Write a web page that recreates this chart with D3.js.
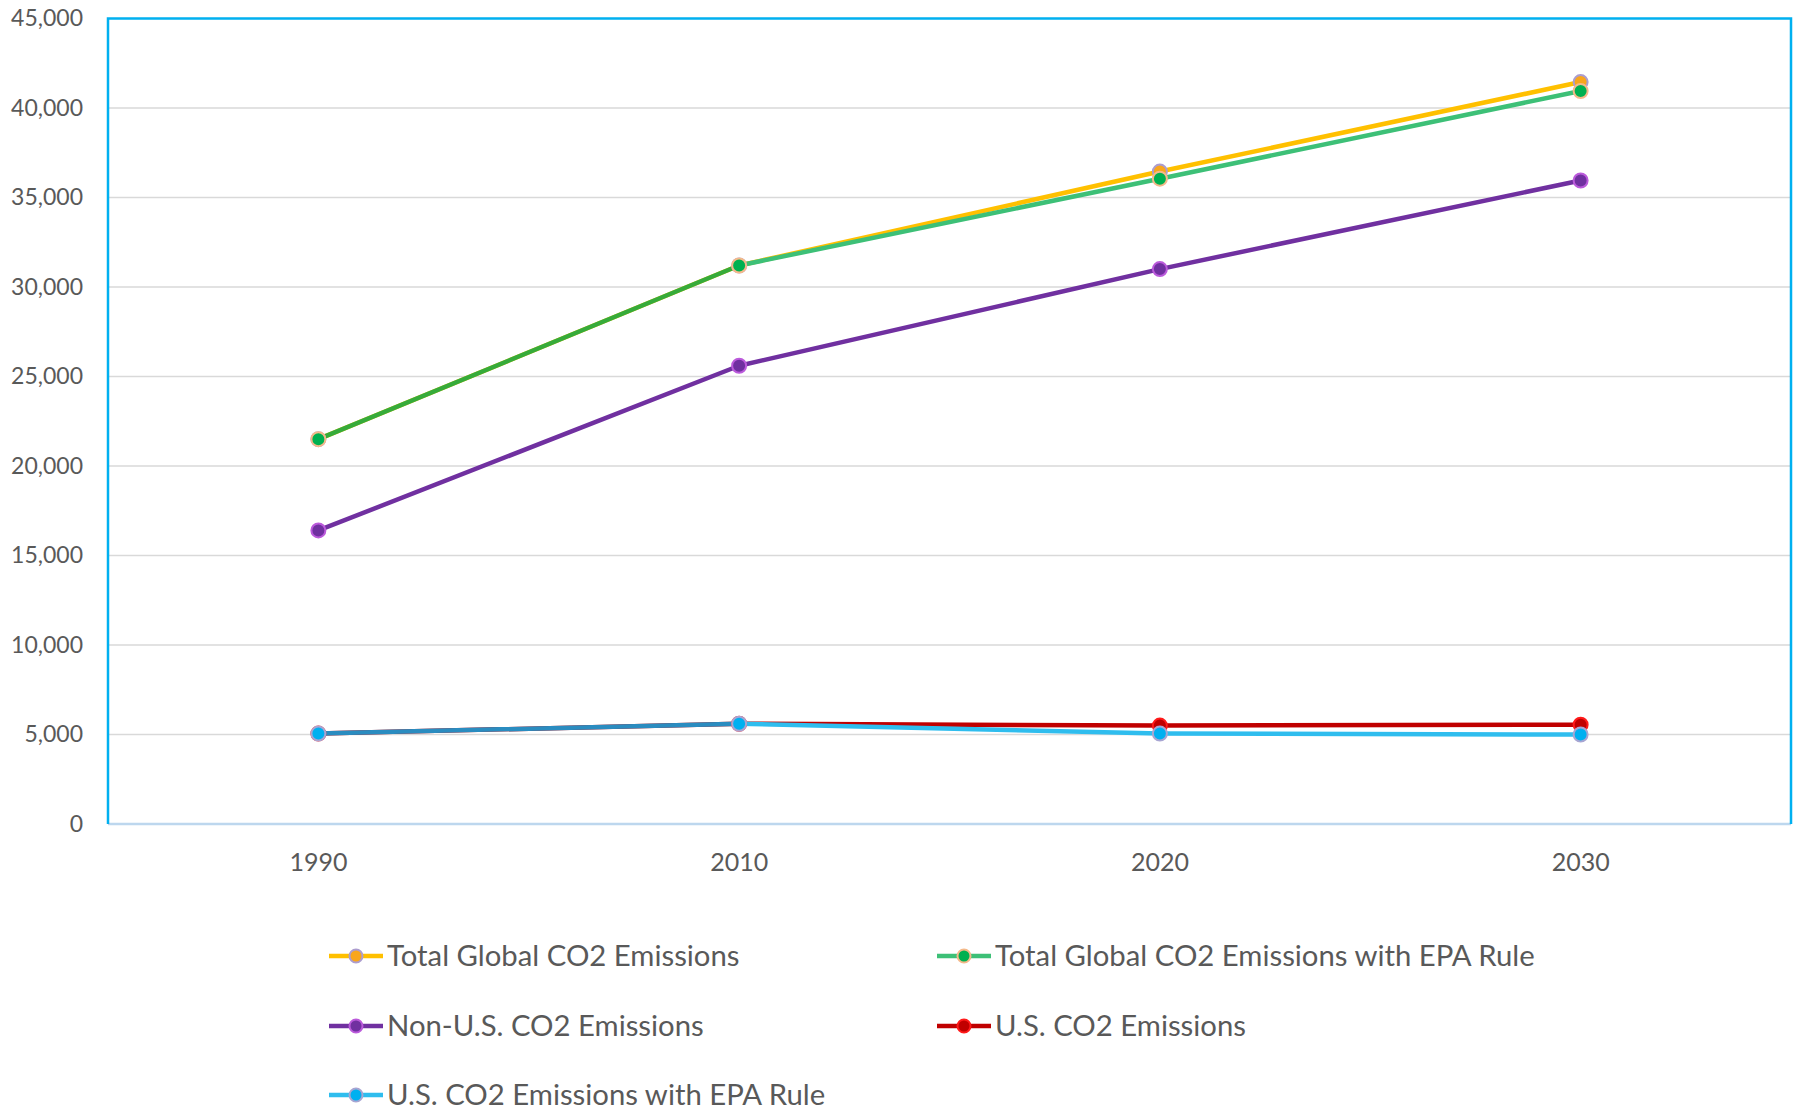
<!DOCTYPE html>
<html>
<head>
<meta charset="utf-8">
<script src="https://cdn.jsdelivr.net/npm/d3@7"></script>
<style>
  html, body { margin: 0; padding: 0; background: #ffffff; }
  svg { display: block; font-family: Lato, "Open Sans", sans-serif; }
</style>
</head>
<body>
<svg id="chart" width="1800" height="1111"></svg>
<script>
// Emissions projections (million metric tons CO2)
const years = ["1990", "2010", "2020", "2030"];
const totalGlobal = [21500, 31200, 36450, 41450];
const totalGlobalEPA = [21500, 31200, 36050, 40950];
const nonUS = [16400, 25600, 31000, 35950];
const usEmissions = [5050, 5600, 5500, 5550];
const usEmissionsEPA = [5050, 5600, 5050, 5000];
const yTicks = [0, 5000, 10000, 15000, 20000, 25000, 30000, 35000, 40000, 45000];

const seriesNames = [
  "Total Global CO2 Emissions",
  "Total Global CO2 Emissions with EPA Rule",
  "Non-U.S. CO2 Emissions",
  "U.S. CO2 Emissions",
  "U.S. CO2 Emissions with EPA Rule"
];
const seriesValues = [totalGlobal, totalGlobalEPA, nonUS, usEmissions, usEmissionsEPA];
// index of the series each one is compared against (shared stretch gets its own tone)
const baseSeries = [null, 0, null, null, 3];
const lineColors = ["#FFC000", "#3DC077", "#7030A0", "#C00000", "#2FBDEE"];
const sharedColors = [null, "#36AB3A", null, null, "#2A8CC0"];
const markerFill = ["#F9A61C", "#00B050", "#7030A0", "#C00000", "#00B0F0"];
const markerStroke = ["#AC9DCF", "#F4B98A", "#BB5ADB", "#FF1A1A", "#A7A5D2"];

const series = seriesNames.map((name, i) => ({
  name, values: seriesValues[i], base: baseSeries[i],
  line: lineColors[i], shared: sharedColors[i],
  fill: markerFill[i], stroke: markerStroke[i]
}));

const svg = d3.select("#chart");
const plot = { left: 108, right: 1791, top: 18.5, bottom: 824 };

const x = d3.scaleBand().domain(years).range([plot.left, plot.right]);
const xc = d => x(d) + x.bandwidth() / 2;
const y = d3.scaleLinear().domain([0, 45000]).range([plot.bottom, plot.top]);

// horizontal gridlines
svg.append("g")
  .selectAll("line")
  .data(yTicks.filter(t => t > 0 && t < 45000))
  .join("line")
  .attr("x1", plot.left).attr("x2", plot.right)
  .attr("y1", d => y(d)).attr("y2", d => y(d))
  .attr("stroke", "#D9D9D9").attr("stroke-width", 1.5);

// y axis labels
const yAxis = d3.axisLeft(y).tickValues(yTicks).tickSize(0).tickPadding(25)
  .tickFormat(d3.format(","));
svg.append("g")
  .attr("transform", `translate(${plot.left},0)`)
  .call(yAxis)
  .call(g => g.select(".domain").remove())
  .call(g => g.selectAll("text")
    .attr("font-family", "Lato, sans-serif")
    .attr("font-size", 23).attr("fill", "#595959"));

// x axis labels
const xAxis = d3.axisBottom(x).tickSize(0).tickPadding(29.5);
svg.append("g")
  .attr("transform", `translate(0,${plot.bottom})`)
  .call(xAxis)
  .call(g => g.select(".domain").remove())
  .call(g => g.selectAll("text")
    .attr("font-family", "Lato, sans-serif")
    .attr("font-size", 25).attr("fill", "#595959"));

// bottom axis line
svg.append("line")
  .attr("x1", plot.left).attr("x2", plot.right)
  .attr("y1", plot.bottom).attr("y2", plot.bottom)
  .attr("stroke", "#BDD7EE").attr("stroke-width", 2.5);

// plot frame (left, top, right)
svg.append("path")
  .attr("d", `M${plot.left},${plot.bottom}V${plot.top}H${plot.right}V${plot.bottom}`)
  .attr("fill", "none").attr("stroke", "#00B0F0").attr("stroke-width", 2.5);

// series lines, drawn segment by segment
const segGroup = svg.append("g");
series.forEach(s => {
  const segs = d3.pairs(years.map((yr, i) => ({ yr, v: s.values[i], i })));
  segGroup.append("g")
    .selectAll("line")
    .data(segs)
    .join("line")
    .attr("x1", d => xc(d[0].yr)).attr("y1", d => y(d[0].v))
    .attr("x2", d => xc(d[1].yr)).attr("y2", d => y(d[1].v))
    .attr("stroke", d => {
      if (s.base !== null) {
        const b = series[s.base].values;
        if (b[d[0].i] === d[0].v && b[d[1].i] === d[1].v) return s.shared;
      }
      return s.line;
    })
    .attr("stroke-width", 4.5)
    .attr("stroke-linecap", "round");
});

// markers
series.forEach(s => {
  svg.append("g")
    .selectAll("circle")
    .data(years.map((yr, i) => ({ yr, v: s.values[i] })))
    .join("circle")
    .attr("cx", d => xc(d.yr)).attr("cy", d => y(d.v))
    .attr("r", 7)
    .attr("fill", s.fill)
    .attr("stroke", s.stroke).attr("stroke-width", 2);
});

// legend
const legendCols = [329, 937];
const legendRows = [956, 1026, 1095];
const legend = svg.append("g");
series.forEach((s, i) => {
  const lx = legendCols[i % 2];
  const ly = legendRows[Math.floor(i / 2)];
  const item = legend.append("g").attr("transform", `translate(${lx},${ly})`);
  item.append("line")
    .attr("x1", 0).attr("x2", 54).attr("y1", 0).attr("y2", 0)
    .attr("stroke", s.line).attr("stroke-width", 4.5);
  item.append("circle")
    .attr("cx", 27).attr("cy", 0).attr("r", 6.5)
    .attr("fill", s.fill).attr("stroke", s.stroke).attr("stroke-width", 2);
  item.append("text")
    .attr("x", 58).attr("y", 0)
    .attr("dy", "0.35em")
    .attr("font-family", "Lato, sans-serif")
    .attr("font-size", 29.3)
    .attr("fill", "#595959")
    .text(s.name);
});
</script>
</body>
</html>
